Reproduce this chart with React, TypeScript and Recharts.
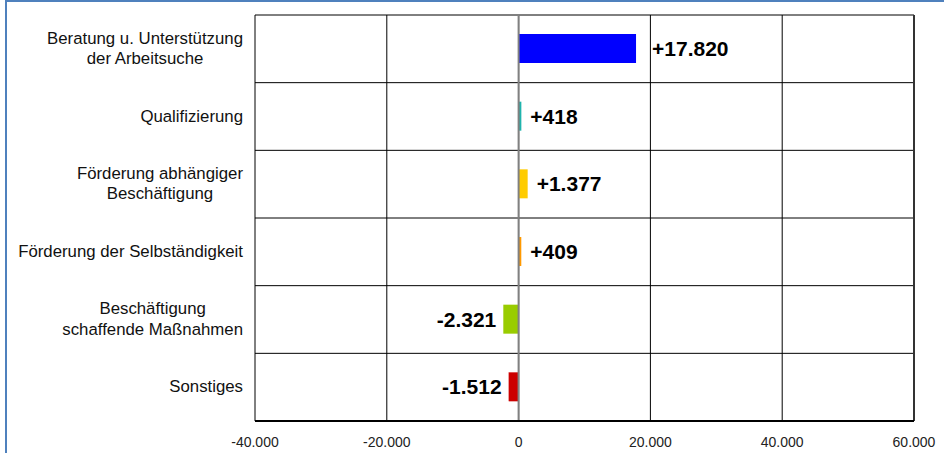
import React from "react";
import {
  BarChart,
  Bar,
  XAxis,
  YAxis,
  CartesianGrid,
  ReferenceLine,
  LabelList,
  Cell,
} from "recharts";

const categories = [
  "Beratung u. Unterstützung\nder Arbeitsuche",
  "Qualifizierung",
  "Förderung abhängiger\nBeschäftigung",
  "Förderung der Selbständigkeit",
  "Beschäftigung\nschaffende Maßnahmen",
  "Sonstiges",
];
const values = [17820, 418, 1377, 409, -2321, -1512];
const colors = ["#0000ff", "#1fb4ad", "#ffcc00", "#ff9900", "#99cc00", "#cc0000"];
const labelGaps = [16, 9, 9, 9, 7, 7];
const xTicks = [-40000, -20000, 0, 20000, 40000, 60000];

const data = categories.map((name, i) => ({ name, value: values[i], color: colors[i] }));

const FONT = "'Liberation Sans', Arial, sans-serif";

const fmt = (n: number) => {
  const s = Math.abs(n).toString().replace(/\B(?=(\d{3})+(?!\d))/g, ".");
  return (n < 0 ? "-" : "") + s;
};
const fmtSigned = (n: number) => (n > 0 ? "+" : "") + fmt(n);

let ctx: CanvasRenderingContext2D | null = null;
const measure = (t: string, font: string) => {
  if (!ctx) ctx = document.createElement("canvas").getContext("2d");
  if (!ctx) return t.length * 8;
  ctx.font = font;
  return ctx.measureText(t).width;
};

const CatTick = (props: any) => {
  const { x, y, payload } = props;
  const lines: string[] = String(payload.value).split("\n");
  const fs = 16.8;
  const widths = lines.map((l) => measure(l, `${fs}px 'Liberation Sans'`));
  const maxW = Math.max(...widths);
  const cx = x - maxW / 2;
  const lh = 20.5;
  const first = y - ((lines.length - 1) * lh) / 2 + 5;
  return (
    <g>
      {lines.map((l, i) => (
        <text
          key={i}
          x={cx}
          y={first + i * lh}
          textAnchor="middle"
          fontSize={fs}
          fontFamily={FONT}
          fill="#111"
        >
          {l}
        </text>
      ))}
    </g>
  );
};

const XTick = (props: any) => {
  const { x, y, payload } = props;
  return (
    <text x={x} y={y + 24} textAnchor="middle" fontSize={14} fontFamily={FONT} fill="#222">
      {fmt(payload.value)}
    </text>
  );
};

const makeLabel = (props: any) => {
  const { x, y, width, height, value, index } = props;
  const left = Math.min(x, x + width);
  const right = Math.max(x, x + width);
  const cy = y + height / 2;
  const pos = value >= 0;
  const gap = labelGaps[index] ?? 9;
  return (
    <text
      key={index}
      x={pos ? right + gap : left - gap}
      y={cy}
      dy="0.36em"
      textAnchor={pos ? "start" : "end"}
      fontSize={21}
      fontWeight="bold"
      fontFamily={FONT}
      fill="#000"
    >
      {fmtSigned(value)}
    </text>
  );
};

export default function App() {
  return (
    <div style={{ position: "absolute", left: 0, top: 0, width: 944, height: 453, overflow: "hidden", background: "#fff" }}>
      <div
        style={{
          position: "absolute",
          left: 5,
          top: 0,
          width: 939,
          height: 453,
          boxSizing: "border-box",
          borderTop: "2px solid #4f81bd",
          borderLeft: "2px solid #4f81bd",
        }}
      />
      <div style={{ position: "absolute", left: 0, top: 0 }}>
        <BarChart
          width={944}
          height={453}
          data={data}
          layout="vertical"
          margin={{ top: 15, right: 30, left: 0, bottom: 0 }}
          barCategoryGap={0}
        >
          <CartesianGrid
            stroke="#000"
            strokeWidth={1}
            horizontalCoordinatesGenerator={({ offset }: any) =>
              categories.map((_, i) => offset.top + (i * offset.height) / categories.length).concat([offset.top + offset.height])
            }
          />
          <XAxis
            type="number"
            domain={[-40000, 60000]}
            ticks={xTicks}
            allowDataOverflow
            height={32}
            tickLine={false}
            tickSize={0}
            axisLine={{ stroke: "#000", strokeWidth: 2 }}
            tick={<XTick />}
            interval={0}
          />
          <YAxis
            type="category"
            dataKey="name"
            width={255}
            axisLine={false}
            tickLine={false}
            tickSize={0}
            tickMargin={12}
            tick={<CatTick />}
            interval={0}
          />
          <Bar dataKey="value" barSize={29} isAnimationActive={false}>
            {data.map((d, i) => (
              <Cell key={i} fill={d.color} />
            ))}
            <LabelList dataKey="value" content={makeLabel} />
          </Bar>
          <ReferenceLine x={0} stroke="#808080" strokeWidth={2} />
          <ReferenceLine x={60000} stroke="#333" strokeWidth={2} />
        </BarChart>
      </div>
    </div>
  );
}
